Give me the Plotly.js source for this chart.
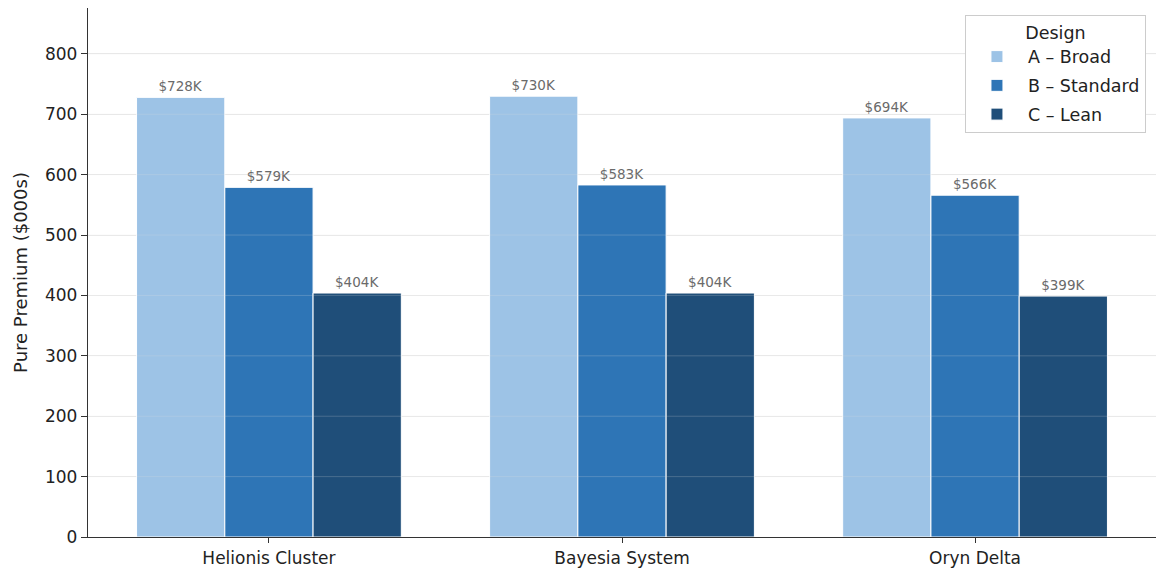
<!DOCTYPE html>
<html>
<head>
<meta charset="utf-8">
<script src="https://cdn.plot.ly/plotly-3.0.1.min.js"></script>
<style>html,body{margin:0;padding:0;background:#fff;}#chart{width:1156px;height:571px;}</style>
</head>
<body>
<div id="chart"></div>
<script>
const categories = ["Helionis Cluster", "Bayesia System", "Oryn Delta"];
const seriesNames = ["A – Broad", "B – Standard", "C – Lean"];
const broad = [728, 730, 694];
const standard = [579, 583, 566];
const lean = [404, 404, 399];
const seriesValues = [broad, standard, lean];
const colors = ["#9dc3e6", "#2e75b6", "#1f4e79"];
const yTicks = [0, 100, 200, 300, 400, 500, 600, 700, 800];

const font = "DejaVu Sans, sans-serif";
const traces = seriesValues.map((vals, i) => ({
  type: "bar",
  name: seriesNames[i],
  legendgroup: "g" + i,
  x: categories,
  y: vals,
  marker: {color: colors[i], line: {color: "#ffffff", width: 1}},
  text: vals.map(v => "$" + v + "K"),
  textposition: "outside",
  cliponaxis: false,
  textfont: {family: font, size: 13.5, color: "#6a6a6a"},
  hoverinfo: "x+y"
}));

// faint gridlines drawn over the bars, as in the reference
const gridOver = yTicks.filter(v => v > 0).map(v => ({
  type: "line", xref: "paper", x0: 0, x1: 1, yref: "y", y0: v, y1: v,
  layer: "above", line: {color: "rgba(225,225,225,0.22)", width: 1}
}));

const layout = {
  width: 1156, height: 571,
  margin: {l: 88, r: 0, t: 8, b: 34},
  paper_bgcolor: "#ffffff", plot_bgcolor: "#ffffff",
  font: {family: font, size: 17, color: "#222222"},
  barmode: "group", bargap: 0.25, bargroupgap: 0,
  showlegend: true,
  shapes: gridOver,
  legend: {
    x: 0.9906, y: 0.9868, xanchor: "right", yanchor: "top",
    bgcolor: "#ffffff", bordercolor: "#cccccc", borderwidth: 1,
    traceorder: "grouped", tracegroupgap: 3,
    itemwidth: 52,
    font: {family: font, size: 17.5, color: "#222222"},
    title: {text: "Design", side: "top center", font: {family: font, size: 17.5, color: "#222222"}}
  },
  xaxis: {
    type: "category",
    range: [-0.5125, 2.5125],
    showline: true, linecolor: "#333333", linewidth: 1.2,
    ticks: "outside", ticklen: 5, tickcolor: "#333333",
    tickfont: {family: font, size: 17, color: "#222222"},
    showgrid: false, zeroline: false
  },
  yaxis: {
    range: [0, 876],
    tickvals: yTicks,
    showline: true, linecolor: "#333333", linewidth: 1.2,
    ticks: "outside", ticklen: 6, tickcolor: "#333333",
    tickfont: {family: font, size: 17, color: "#222222"},
    showgrid: true, gridcolor: "#ebebeb", gridwidth: 1,
    zeroline: false,
    title: {text: "Pure Premium ($000s)", font: {family: font, size: 18, color: "#222222"}, standoff: 12}
  }
};

Plotly.newPlot("chart", traces, layout, {displayModeBar: false, staticPlot: true});
</script>
</body>
</html>
